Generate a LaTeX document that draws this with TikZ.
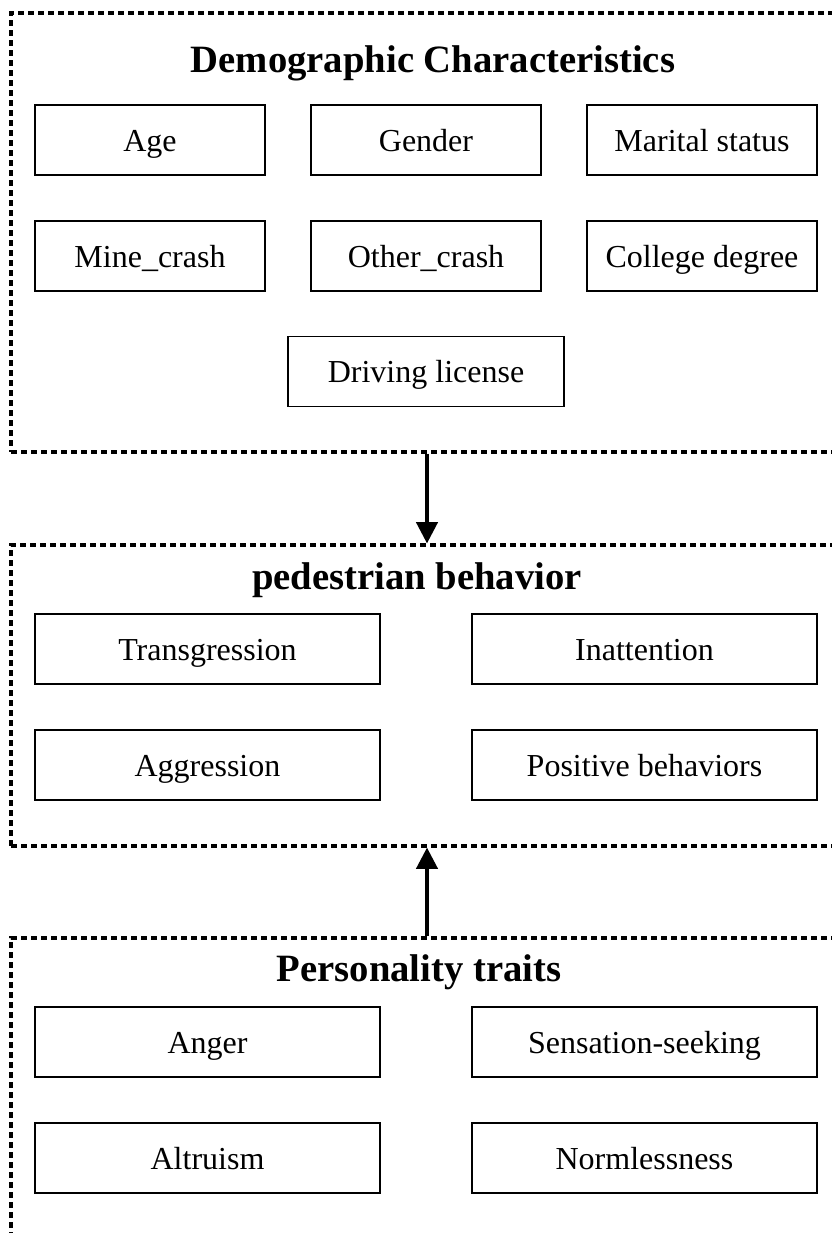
\documentclass[tikz,border=0pt]{standalone}
\usepackage{fontspec}
\setmainfont{Liberation Serif}
\usetikzlibrary{arrows.meta,fit}
\colorlet{myline}{black}

\begin{document}
\begin{tikzpicture}[x=0.75pt,y=-0.75pt]
\tikzset{GroupStyle/.style ={draw=myline,line width=2.4pt,dash pattern=on 4.5pt off 3pt,inner sep=0pt}}
\tikzset{TitleStyle/.style ={font=\fontsize{29}{34}\selectfont\bfseries}}
\tikzset{ItemStyle/.style ={draw=myline,line width=1.2pt,minimum height=52.5pt,minimum width=172.5pt,
  text height=21.5pt,text depth=5pt,font=\fontsize{24}{28}\selectfont}}
\tikzset{WideStyle/.style ={ItemStyle,minimum width=258.75pt}}
\tikzset{EdgeStyle/.style ={-{Triangle[width=16pt,length=16pt]},line width=2.6pt,color=myline}}
\useasboundingbox (0,0) rectangle (832,1233);
\clip (0,0) rectangle (832,1233);
% groups
\node[GroupStyle,fit={(11,13) (843,452)}] (demo) {};
\node[GroupStyle,fit={(11,545) (843,846)}] (ped) {};
\node[GroupStyle,fit={(11,938) (843,1300)}] (pers) {};
% demographic
\node[TitleStyle] (demoT) at (433,63) {Demographic Characteristics};
\node[ItemStyle] (age) at (150,140) {Age};
\node[ItemStyle] (gender) at (426,140) {Gender};
\node[ItemStyle] (marital) at (702,140) {Marital status};
\node[ItemStyle] (mine) at (150,256) {Mine\_crash};
\node[ItemStyle] (other) at (426,256) {Other\_crash};
\node[ItemStyle] (college) at (702,256) {College degree};
\node[ItemStyle,minimum width=207pt] (license) at (426,371.5) {Driving license};
% pedestrian behavior
\node[TitleStyle] (pedT) at (417,580) {pedestrian behavior};
\node[WideStyle] (trans) at (207.5,649) {Transgression};
\node[WideStyle] (inatt) at (644.5,649) {Inattention};
\node[WideStyle] (aggr) at (207.5,765) {Aggression};
\node[WideStyle] (posit) at (644.5,765) {Positive behaviors};
% personality traits
\node[TitleStyle] (persT) at (419,972) {Personality traits};
\node[WideStyle] (anger) at (207.5,1042) {Anger};
\node[WideStyle] (sens) at (644.5,1042) {Sensation-seeking};
\node[WideStyle] (altr) at (207.5,1158) {Altruism};
\node[WideStyle] (norm) at (644.5,1158) {Normlessness};
\draw[EdgeStyle] (demo.south) -- (ped.north);
\draw[EdgeStyle] (pers.north) -- (ped.south);
\end{tikzpicture}
\end{document}
